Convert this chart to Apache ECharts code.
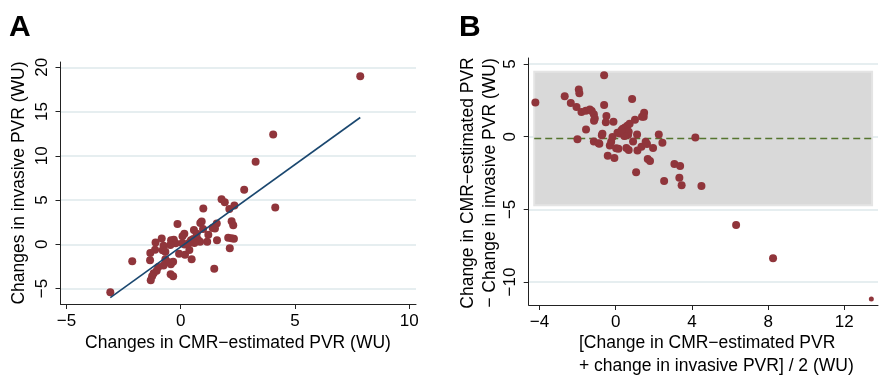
<!DOCTYPE html>
<html><head><meta charset="utf-8">
<script src="https://cdn.jsdelivr.net/npm/echarts@6/dist/echarts.min.js"></script>
<style>html,body{margin:0;padding:0;background:#fff}#c{width:879px;height:377px}</style>
</head><body><div id="c"></div>
<script>
// Panel A: change in CMR-estimated PVR (x) vs change in invasive PVR (y)
const aX = [7.86,4.05,3.28,4.14,2.78,1.79,1.93,2.35,2.13,0.99,2.23,2.30,1.58,1.40,1.50,0.92,0.86,0.98,-0.14,0.58,
  1.21,0.16,0.08,0.70,2.08,2.22,2.33,1.59,1.16,0.45,0.55,0.65,0.75,0.85,0.60,0.40,2.15,1.47,-0.83,-1.10,
  -0.42,-0.30,-0.22,-0.45,-0.75,-1.12,-1.33,-0.79,-0.67,-0.07,0.19,0.38,0.48,0.17,-2.12,-1.34,-0.67,-0.55,-0.43,-0.33,
  -0.75,-0.98,-1.05,-1.18,-1.25,-1.31,-0.44,-0.33,-3.08,0.07,0.33];
const aY = [19.0,12.4,9.33,4.17,6.16,5.10,4.75,4.40,4.00,4.06,2.60,2.16,2.35,1.85,1.78,2.58,2.42,1.72,2.29,1.62,
  1.08,1.20,0.92,1.20,0.74,0.70,0.62,0.46,0.28,0.45,0.60,0.35,0.55,0.30,0.15,0.20,-0.45,-2.75,0.67,0.22,
  0.45,0.52,0.12,-0.08,-0.15,-0.60,-0.98,-0.68,-0.85,-1.06,-1.17,-0.64,-1.69,-0.03,-1.92,-1.81,-1.68,-2.00,-2.25,-1.97,
  -2.40,-2.56,-2.97,-3.27,-3.60,-4.06,-3.39,-3.60,-5.42,0.11,0.10];
const fitX = [-3.08, 7.86];
const fitY = [-6.03, 14.33];
const aXTicks = [-5, 0, 5, 10];
const aYTicks = [-5, 0, 5, 10, 15, 20];

// Panel B: Bland-Altman (mean vs difference)
const bX = [-4.22,-2.68,-2.36,-2.06,-1.94,-1.91,-1.80,-1.57,-1.36,-1.26,-1.15,-1.10,-1.14,-1.56,-2.01,-1.15,-0.86,-0.73,-0.70,-0.61,
  -0.61,-0.49,-0.52,-0.12,-0.42,-0.07,-0.31,-0.24,-0.17,0.02,0.14,0.09,0.21,0.37,0.49,0.61,0.73,0.51,0.65,0.68,
  0.56,0.68,0.86,0.91,1.01,1.12,1.14,1.07,1.35,1.47,1.49,1.38,1.57,1.64,1.68,1.80,1.96,2.26,2.45,2.54,
  3.08,3.38,3.34,3.46,4.18,4.50,6.32,8.26,0.45,0.30,-0.90,13.42];
const bY = [2.36,2.78,2.32,2.04,3.26,3.00,1.70,1.79,1.88,1.77,1.54,1.26,1.10,0.50,-0.18,-0.32,-0.48,0.11,0.21,4.24,
  2.18,1.42,0.99,1.03,-1.31,-1.47,-0.60,-0.34,-0.02,-0.80,-0.83,0.28,0.23,0.55,0.64,0.76,0.89,0.09,0.14,0.34,
  -0.78,-0.92,2.59,-0.32,1.17,0.16,-0.94,-2.45,-0.69,1.38,1.65,1.38,-0.34,-0.50,-1.54,-1.67,-0.78,0.16,-0.41,-3.05,
  -1.88,-2.02,-2.82,-3.33,-0.05,-3.39,-6.08,-8.37,0.05,0.45,-0.45,-11.17];
const meanDiff = -0.12;
const loaUpper = 4.47;
const loaLower = -4.72;
const loaXRange = [-4.28, 13.46];
const bXTicks = [-4, 0, 4, 8, 12];
const bYTicks = [-10, -5, 0, 5];

const FONT = '"Liberation Sans", Arial, sans-serif';
const PT = '#90353b', LINE = '#1a476f', GREEN = '#55752f', GRID = '#e6eef0', AX = '#222';
const fmt = v => String(v).replace('-', '\u2212');
const zip = (xs, ys) => xs.map((x, i) => [x, ys[i]]);

function xAxisCfg(gi, min, max, ticks) {
  return { type: 'value', gridIndex: gi, min, max,
    axisLine: { show: true, onZero: false, lineStyle: { color: AX, width: 1 } },
    axisTick: { show: true, length: 5, customValues: ticks, lineStyle: { color: AX } },
    axisLabel: { customValues: ticks, formatter: fmt, fontSize: 17, color: '#000', fontFamily: FONT, margin: 9 },
    splitLine: { show: false } };
}
function yAxisCfg(gi, min, max, ticks) {
  return { type: 'value', gridIndex: gi, min, max,
    axisLine: { show: true, onZero: false, lineStyle: { color: AX, width: 1 } },
    axisTick: { show: true, length: 5, customValues: ticks, lineStyle: { color: AX } },
    axisLabel: { customValues: ticks, formatter: fmt, fontSize: 17, color: '#000', fontFamily: FONT, margin: 10, rotate: 90 },
    splitLine: { show: false } };
}
function gridSeries(gi, ticks) {
  return { type: 'scatter', xAxisIndex: gi, yAxisIndex: gi, data: [], z: 0, silent: true,
    markLine: { z: 0, silent: true, symbol: 'none', animation: false, label: { show: false },
      lineStyle: { color: GRID, width: 2, type: 'solid' },
      data: ticks.map(v => ({ yAxis: v })) } };
}

const chart = echarts.init(document.getElementById('c'), null, { renderer: 'canvas' });
chart.setOption({
  animation: false,
  backgroundColor: '#fff',
  textStyle: { fontFamily: FONT },
  grid: [
    { left: 60.5, top: 62, width: 355.5, height: 242 },
    { left: 528.7, top: 58, width: 349.3, height: 247 }
  ],
  xAxis: [ xAxisCfg(0, -5.26, 10.3, aXTicks), xAxisCfg(1, -4.57, 13.77, bXTicks) ],
  yAxis: [ yAxisCfg(0, -6.74, 20.6, aYTicks), yAxisCfg(1, -11.58, 5.42, bYTicks) ],
  series: [
    gridSeries(0, aYTicks),
    gridSeries(1, bYTicks),
    { type: 'scatter', xAxisIndex: 0, yAxisIndex: 0, z: 3, symbolSize: 8,
      itemStyle: { color: PT, opacity: 1 }, data: zip(aX, aY) },
    { type: 'line', xAxisIndex: 0, yAxisIndex: 0, z: 6, symbol: 'none',
      lineStyle: { color: LINE, width: 1.6 }, data: zip(fitX, fitY) },
    { type: 'scatter', xAxisIndex: 1, yAxisIndex: 1, z: 1, data: [], silent: true,
      markArea: { z: 1, silent: true, itemStyle: { color: '#d9d9d9', borderColor: '#e4e4e4', borderWidth: 2 },
        data: [[ { xAxis: loaXRange[0], yAxis: loaUpper }, { xAxis: loaXRange[1], yAxis: loaLower } ]] } },
    { type: 'line', xAxisIndex: 1, yAxisIndex: 1, z: 3, symbol: 'none',
      lineStyle: { color: GREEN, width: 1.7, type: [7, 4] },
      data: [[loaXRange[0], meanDiff], [loaXRange[1], meanDiff]] },
    { type: 'scatter', xAxisIndex: 1, yAxisIndex: 1, z: 5,
      symbolSize: (v, p) => (p.dataIndex === bX.length - 1 ? 5 : 8),
      itemStyle: { color: PT, opacity: 1 }, data: zip(bX, bY) }
  ],
  graphic: [
    { type: 'text', x: 9, y: 13, style: { text: 'A', font: 'bold 30px ' + FONT, fill: '#000' } },
    { type: 'text', x: 459, y: 13, style: { text: 'B', font: 'bold 30px ' + FONT, fill: '#000' } },
    { type: 'text', x: 19, y: 183, rotation: Math.PI / 2,
      style: { text: 'Changes in invasive PVR (WU)', font: '17.5px ' + FONT, fill: '#000', align: 'center', verticalAlign: 'middle' } },
    { type: 'text', x: 238, y: 343,
      style: { text: 'Changes in CMR\u2212estimated PVR (WU)', font: '17.5px ' + FONT, fill: '#000', align: 'center', verticalAlign: 'middle' } },
    { type: 'text', x: 479, y: 183, rotation: Math.PI / 2,
      style: { text: 'Change in CMR\u2212estimated PVR\n\u2212 Change in invasive PVR (WU)', font: '17.5px ' + FONT, lineHeight: 22, fill: '#000', align: 'center', verticalAlign: 'middle' } },
    { type: 'text', x: 579, y: 354.5,
      style: { text: '[Change in CMR\u2212estimated PVR\n+ change in invasive PVR] / 2 (WU)', font: '17.5px ' + FONT, lineHeight: 23, fill: '#000', align: 'left', verticalAlign: 'middle' } }
  ]
});
</script>
</body></html>
